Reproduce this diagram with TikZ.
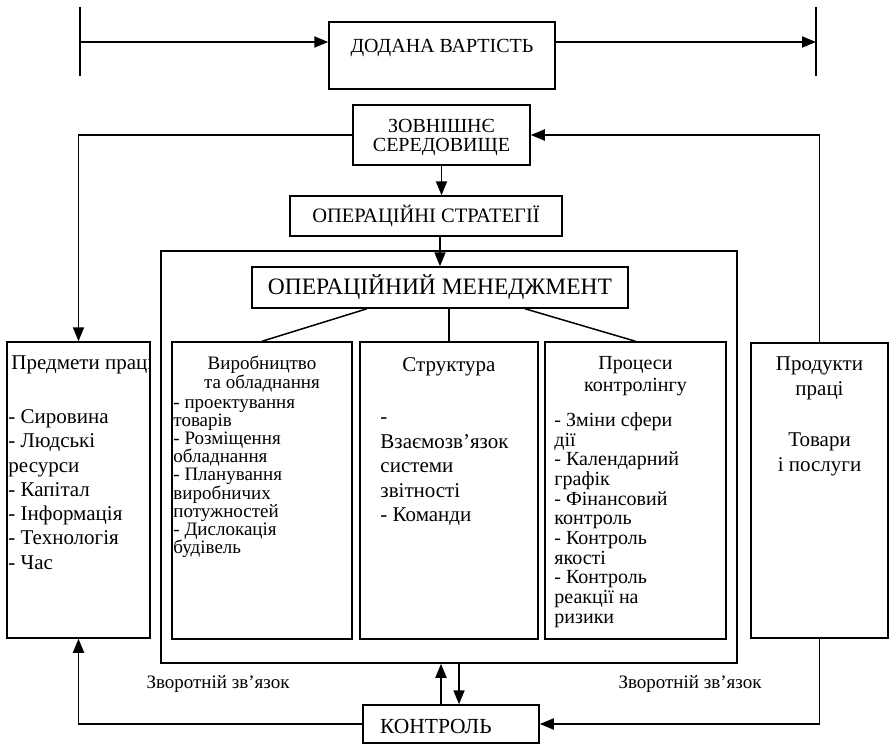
\documentclass[tikz,border=0pt]{standalone}
\usepackage{fontspec}
\setmainfont{Liberation Serif}
\usepackage{tikz}
\usetikzlibrary{
	arrows.meta,									% стрілки
	positioning,									% розміщення вузлів
}

\tikzset{
	blok/.style={draw, line width=1.5pt, inner sep=0pt},
	napys/.style={font=\fontsize{19}{22}\selectfont, inner sep=0pt},
	spysok/.style={align=left, inner sep=0pt},
	zvjazok/.style={line width=1.9pt, -{Triangle[length=14pt,width=11pt]}},
	linija/.style={line width=1.9pt},
	vidgaluzhennja/.style={line width=1.5pt},
}

\begin{document}
\begin{tikzpicture}[x=1pt, y=-1pt]
		\useasboundingbox (0,0) rectangle (890,744);
		% додана вартість
		\node[blok, minimum width=226pt, minimum height=67pt, text depth=20pt, font=\fontsize{20}{24}\selectfont] (vartist) at (442,55.5) {ДОДАНА ВАРТІСТЬ};
		\coordinate (pochatok-v) at (80,7);
		\coordinate (pochatok-n) at (80,76);
		\coordinate (kinec-v) at (816,7);
		\coordinate (kinec-n) at (816,76);
		\coordinate (vhid) at (80,42);
		\coordinate (vyhid) at (816,42);
		\draw[linija] (pochatok-v) -- (pochatok-n);
		\draw[linija] (kinec-v) -- (kinec-n);
		\draw[zvjazok] (vhid) -- (vhid -| vartist.west);
		\draw[zvjazok] (vyhid -| vartist.east) -- (vyhid);

		% середовище і стратегії
		\node[blok, minimum width=177pt, minimum height=60pt, align=center, font=\fontsize{20}{19}\selectfont] (seredovyshche) at (441.5,135) {\rule{0pt}{19pt}ЗОВНІШНЄ\\СЕРЕДОВИЩЕ};
		\node[blok, minimum width=272pt, minimum height=40pt, font=\fontsize{20.5}{24}\selectfont] (strategii) at (426,216) {ОПЕРАЦІЙНІ СТРАТЕГІЇ};
		\node[blok, minimum width=576pt, minimum height=412pt] (ramka) at (449,457) {};
		\node[blok, minimum width=376pt, minimum height=41pt, font=\fontsize{23.5}{26}\selectfont] (menedzhment) at (440,287.5) {ОПЕРАЦІЙНИЙ МЕНЕДЖМЕНТ};

		% блоки
		\node[blok, minimum width=143pt, minimum height=296pt] (predmety) at (78.5,490) {};
		\node[blok, minimum width=180pt, minimum height=297pt] (vyrobnyctvo) at (262,490.5) {};
		\node[blok, minimum width=178pt, minimum height=297pt] (struktura) at (449,490.5) {};
		\node[blok, minimum width=181pt, minimum height=297pt] (kontroling) at (635.5,490.5) {};
		\node[blok, minimum width=137pt, minimum height=295pt] (produkty) at (819.5,490.5) {};
		\node[blok, minimum width=176pt, minimum height=38pt, text width=150pt, align=left, font=\fontsize{21.5}{24}\selectfont] (kontrol) at (451,724) {\hspace*{4pt}\rule{0pt}{20pt}КОНТРОЛЬ};

		% тексти блоків
		\begin{scope}
			\clip (predmety.south west) rectangle (predmety.north east);
			\node[spysok, font=\fontsize{21}{24.3}\selectfont, below right=11pt and 2pt of predmety.north west] (predmety-t) {\strut\hspace*{3pt}Предмети праці\\[29.7pt]- Сировина\\- Людські\\ресурси\\- Капітал\\- Інформація\\- Технологія\\- Час};
		\end{scope}
		\node[spysok, align=center, font=\fontsize{19}{19.5}\selectfont, below=14pt of vyrobnyctvo.north] (vyrobnyctvo-nazva) {\strut Виробництво\\та обладнання};
		\node[spysok, font=\fontsize{19}{18.2}\selectfont, below right=54pt and 2pt of vyrobnyctvo.north west] (vyrobnyctvo-t) {\strut- проектування\\товарів\\- Розміщення\\обладнання\\- Планування\\виробничих\\потужностей\\- Дислокація\\будівель};
		\node[spysok, font=\fontsize{21}{24.5}\selectfont, below=13pt of struktura.north] (struktura-nazva) {\strut Структура};
		\node[spysok, font=\fontsize{21}{24.5}\selectfont, below right=65pt and 21pt of struktura.north west] (struktura-t) {\strut-\\Взаємозв’язок\\системи\\звітності\\- Команди};
		\node[spysok, align=center, font=\fontsize{20}{22}\selectfont, below=13pt of kontroling.north] (kontroling-nazva) {\strut Процеси\\контролінгу};
		\node[spysok, font=\fontsize{20}{19.7}\selectfont, below right=71pt and 10pt of kontroling.north west] (kontroling-t) {\strut- Зміни сфери\\дії\\- Календарний\\графік\\- Фінансовий\\контроль\\- Контроль\\якості\\- Контроль\\реакції на\\ризики};
		\node[spysok, align=center, font=\fontsize{21}{25}\selectfont, below=11pt of produkty.north] (produkty-t) {\strut Продукти\\праці\\[26pt]Товари\\і послуги};

		% зв'язки
		\draw[zvjazok] (seredovyshche.south) -- (seredovyshche.south |- strategii.north);
		\draw[zvjazok] (strategii.south -| menedzhment.north) -- (menedzhment.north);
		\draw[zvjazok] (seredovyshche.west) -| (predmety.north);
		\draw[zvjazok] (produkty.north) |- (seredovyshche.east);
		\draw[vidgaluzhennja] ([xshift=-73pt]menedzhment.south) -- (vyrobnyctvo.north);
		\draw[vidgaluzhennja] (menedzhment.south -| struktura.north) -- (struktura.north);
		\draw[vidgaluzhennja] ([xshift=85pt]menedzhment.south) -- (kontroling.north);
		\draw[zvjazok] ([xshift=-10pt]kontrol.north) -- ([xshift=-10pt]kontrol.north |- ramka.south);
		\draw[zvjazok] ([xshift=8pt]kontrol.north |- ramka.south) -- ([xshift=8pt]kontrol.north);
		\draw[zvjazok] (kontrol.west) -| (predmety.south);
		\draw[zvjazok] (produkty.south) |- (kontrol.east);

		% зворотний зв'язок
		\node[napys] (zvorotnij-l) at (218,684) {Зворотній зв’язок};
		\node[napys] (zvorotnij-p) at (690,684) {Зворотній зв’язок};
	\end{tikzpicture}
\end{document}
